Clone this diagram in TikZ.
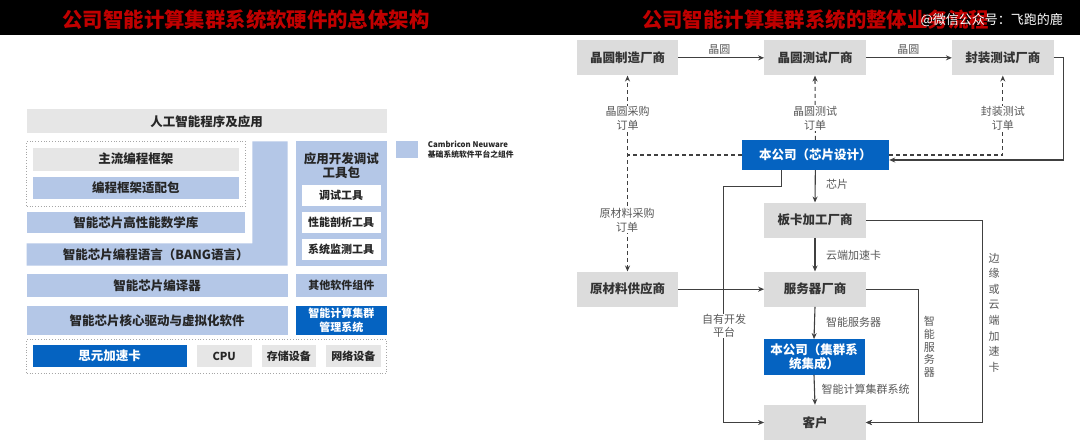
\documentclass[tikz,border=0pt]{standalone}
\usepackage{fontspec}
\newfontfamily\cjk{Noto Sans CJK SC}
\usetikzlibrary{arrows.meta,calc}
\definecolor{titred}{HTML}{C00000}
\definecolor{lgrey}{HTML}{E6E6E6}
\definecolor{rgrey}{HTML}{DCDCDC}
\definecolor{lblue}{HTML}{B4C7E7}
\definecolor{dblue}{HTML}{0563C1}
\definecolor{txt}{HTML}{262626}
\definecolor{lbl}{HTML}{595959}
\definecolor{ln}{HTML}{404040}
\begin{document}
\begin{tikzpicture}[x=1pt,y=-1pt,
 box/.style={draw=none, inner sep=0pt, align=center, text=txt, font=\cjk\bfseries\fontsize{12.5}{14.4}\selectfont},
 gbox/.style={box, fill=lgrey},
 bbox/.style={box, fill=lblue},
 dbox/.style={box, fill=dblue, text=white},
 wbox/.style={box, fill=white, font=\cjk\bfseries\fontsize{11}{13}\selectfont},
 framebox/.style={draw=gray!70, dotted, line width=0.8pt, inner sep=0pt},
 rbox/.style={box, fill=rgrey, text=black!80, minimum width=101.4, minimum height=35},
 elabel/.style={inner sep=1pt, text=lbl, align=center, font=\cjk\fontsize{11}{13.3}\selectfont},
 arr/.style={draw=ln, line width=1.1pt, -{Stealth[length=6pt,width=5pt]}},
 darr/.style={arr, dash pattern=on 4pt off 3pt},
 plain/.style={draw=ln, line width=1.1pt},
]
\useasboundingbox (0,0) rectangle (1080,446);
\fill[white] (0,0) rectangle (1080,446);
\fill[black] (0,0) rectangle (1080,35);

% titles
\node[font=\cjk\bfseries\fontsize{20.4}{24}\selectfont, text=titred, inner sep=0] (tl) at (246,20) {公司智能计算集群系统软硬件的总体架构};
\node[font=\cjk\bfseries\fontsize{20.4}{24}\selectfont, text=titred, inner sep=0] (tr) at (815.5,20) {公司智能计算集群系统的整体业务流程};
\node[font=\cjk\fontsize{13}{15}\selectfont, text=white, inner sep=0] (wm) at (991.7,20) {@微信公众号：飞跑的鹿};

% ---------- left architecture ----------
\node[gbox, minimum width=360, minimum height=24] (app) at (206.7,121.3) {人工智能程序及应用};
\node[framebox, minimum width=218.3, minimum height=65.4] (fw) at (135.85,174) {};
\node[gbox, minimum width=206.3, minimum height=23] (fw1) at (135.85,159.2) {主流编程框架};
\node[bbox, minimum width=206.3, minimum height=22.6] (fw2) at (135.85,188) {编程框架适配包};
\node[bbox, minimum width=218.3, minimum height=21.6] (math) at (135.85,222.5) {智能芯片高性能数学库};
\fill[lblue] (252.3,141.3) -- (287.7,141.3) -- (287.7,265.7) -- (26.7,265.7) -- (26.7,243.3) -- (252.3,243.3) -- cycle;
\node[box] (bang) at (155.8,254.5) {智能芯片编程语言（BANG语言）};
\node[bbox, minimum width=90.7, minimum height=124.4] (tools) at (341.35,203.5) {};
\node[box] (toolst) at (341.35,165.5) {应用开发调试\\工具包};
\node[wbox, minimum width=79, minimum height=20.7] (t1) at (341.2,195.65) {调试工具};
\node[wbox, minimum width=79, minimum height=20.4] (t2) at (341.2,222.5) {性能剖析工具};
\node[wbox, minimum width=79, minimum height=20.7] (t3) at (341.2,249.65) {系统监测工具};
\node[bbox, minimum width=261, minimum height=22.4] (comp) at (157.2,285.5) {智能芯片编译器};
\node[bbox, minimum width=90.7, minimum height=22.4, font=\cjk\bfseries\fontsize{11}{13}\selectfont] (other) at (341.35,285.5) {其他软件组件};
\node[bbox, minimum width=261, minimum height=29] (drv) at (157.2,320.5) {智能芯片核心驱动与虚拟化软件};
\node[dbox, minimum width=90.7, minimum height=29, font=\cjk\bfseries\fontsize{11}{13.5}\selectfont] (mgmt) at (341.35,320.5) {智能计算集群\\管理系统};
\node[framebox, minimum width=360, minimum height=34] (hw) at (206.7,356.3) {};
\node[dbox, minimum width=154, minimum height=22.3] (card) at (109.7,356.15) {思元加速卡};
\node[gbox, minimum width=55, minimum height=22.3, font=\cjk\bfseries\fontsize{11}{13}\selectfont] (cpu) at (224.2,356.15) {CPU};
\node[gbox, minimum width=54.3, minimum height=22.3, font=\cjk\bfseries\fontsize{11}{13}\selectfont] (stor) at (288.85,356.15) {存储设备};
\node[gbox, minimum width=54.7, minimum height=22.3, font=\cjk\bfseries\fontsize{11}{13}\selectfont] (net) at (353.35,356.15) {网络设备};
% legend
\node[fill=lblue, minimum width=22.3, minimum height=17, inner sep=0] (leg) at (407.15,149.8) {};
\node[anchor=west, align=left, inner sep=0, text=txt, font=\cjk\bfseries\fontsize{7.8}{10}\selectfont] (legt) at (427.7,149.3) {Cambricon Neuware\\基础系统软件平台之组件};

% ---------- right business flow ----------
\node[rbox] (waf) at (627.5,57.85) {晶圆制造厂商};
\node[rbox] (wtest) at (815,57.85) {晶圆测试厂商};
\node[rbox] (pkg) at (1002.8,57.85) {封装测试厂商};
\node[dbox, minimum width=147.3, minimum height=30] (design) at (815.35,155) {本公司（芯片设计）};
\node[rbox] (board) at (815,220.2) {板卡加工厂商};
\node[rbox] (raw) at (627.5,289.2) {原材料供应商};
\node[rbox] (server) at (815,289.2) {服务器厂商};
\node[dbox, minimum width=101, minimum height=35.4] (integ) at (814,357) {本公司（集群系\\统集成）};
\node[rbox] (cust) at (815,422.5) {客户};

\coordinate (d1) at (723.3,186.7);
\coordinate (r1) at (982.7,422.5);
\coordinate (r2) at (918.3,422.5);

% solid flows
\draw[arr] (waf.east) -- (wtest.west);
\draw[arr] (wtest.east) -- (pkg.west);
\draw[arr] (pkg.east) -- ++(10,0) |- ([yshift=-5pt]design.east);
\draw[arr] (design.south) -- (board.north);
\draw[arr] ([xshift=-33.65pt]design.south) |- (d1) |- (cust.west);
\draw[arr] (raw.east) -- (server.west);
\draw[arr] (board.south) -- (server.north);
\draw[arr] (board.east) -| (r1) -- (cust.east);
\draw[arr] (server.east) -| (r2) -- (cust.east);
\draw[arr] (server.south) -- (integ.north);
\draw[arr] (integ.south) -- (cust.north);

% dashed order flows
\draw[darr] (design.east) -| (pkg.south);
\draw[darr] (design.north) -- (wtest.south);
\draw[darr] (design.west) -| (waf.south);
\draw[darr] (design.west) -| (raw.north);

% labels
\node[elabel] (l1) at (719.3,49.3) {晶圆};
\node[elabel] (l2) at (908.3,49.3) {晶圆};
\node[elabel, fill=white] (l3) at (627.5,118.35) {晶圆采购\\订单};
\node[elabel, fill=white] (l4) at (815,118.35) {晶圆测试\\订单};
\node[elabel, fill=white] (l5) at (1002.8,118.35) {封装测试\\订单};
\node[elabel, fill=white] (l6) at (627,220.3) {原材料采购\\订单};
\node[elabel, anchor=west] (l7) at (825,184) {芯片};
\node[elabel, anchor=west] (l8) at (825,255.3) {云端加速卡};
\node[elabel, anchor=west] (l9) at (825,322.7) {智能服务器};
\node[elabel, anchor=west] (l10) at (820.5,389.3) {智能计算集群系统};
\node[elabel, fill=white, inner sep=0.5pt] (l11) at (724,326) {自有开发\\平台};
\node[elabel, font=\cjk\fontsize{11}{12.9}\selectfont] (l12) at (929.3,346.9) {智\\能\\服\\务\\器};
\node[elabel, font=\cjk\fontsize{11}{15.6}\selectfont] (l13) at (994,312.7) {边\\缘\\或\\云\\端\\加\\速\\卡};
\end{tikzpicture}
\end{document}
